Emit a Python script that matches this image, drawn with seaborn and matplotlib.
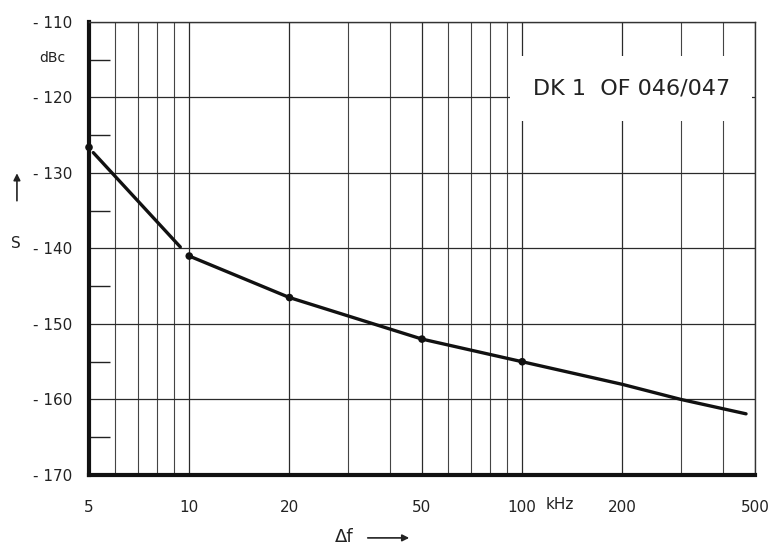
import matplotlib
matplotlib.use("Agg")
import matplotlib.pyplot as plt
import seaborn as sns
import pandas as pd

# curve: first steep segment, then the flatter run
seg1_f = [5.15, 9.4]
seg1_s = [-127.3, -139.8]
seg2_f = [10, 20, 50, 100, 200, 300, 470]
seg2_s = [-141.0, -146.5, -152.0, -155.0, -158.0, -160.0, -161.9]

# marked measurement points
dot_f = [5, 10, 20, 50, 100]
dot_s = [-126.6, -141.0, -146.5, -152.0, -155.0]

x_major = [5, 10, 20, 50, 100, 200, 500]
x_minor = [6, 7, 8, 9, 30, 40, 60, 70, 80, 90, 300, 400]
y_major = [-170, -160, -150, -140, -130, -120, -110]
y_labels = ["- 170", "- 160", "- 150", "- 140", "- 130", "- 120", "- 110"]
y_minor = [-165, -155, -145, -135, -125, -115]

sns.set_style("white")
plt.rcParams["font.family"] = ["DejaVu Sans"]

fig = plt.figure(figsize=(7.7, 5.5), dpi=100)
ax = fig.add_axes([0.1156, 0.1364, 0.8649, 0.8236])

seg1 = pd.DataFrame({"f": seg1_f, "s": seg1_s})
seg2 = pd.DataFrame({"f": seg2_f, "s": seg2_s})
dots = pd.DataFrame({"f": dot_f, "s": dot_s})

sns.lineplot(data=seg1, x="f", y="s", ax=ax, color="#111111", lw=2.4, zorder=4)
sns.lineplot(data=seg2, x="f", y="s", ax=ax, color="#111111", lw=2.4, zorder=4)
sns.scatterplot(data=dots, x="f", y="s", ax=ax, color="#111111", s=30,
                edgecolor="none", zorder=5, clip_on=False)

ax.set_xscale("log")
ax.set_xlim(5, 500)
ax.set_ylim(-170, -110)

ax.set_xticks(x_major)
ax.set_xticklabels([str(v) for v in x_major])
ax.set_xticks(x_minor, minor=True)
ax.set_xticklabels([], minor=True)
ax.set_yticks(y_major)
ax.set_yticklabels(y_labels)
ax.set_yticks(y_minor, minor=True)

# grid: vertical at every decade step, horizontal every 10 dB
ax.grid(True, which="major", axis="both", color="#2a2a2a", lw=0.9)
ax.grid(True, which="minor", axis="x", color="#444444", lw=0.8)
ax.set_axisbelow(True)

ax.tick_params(axis="x", which="both", length=0, pad=18, labelsize=11, colors="#222222")
ax.tick_params(axis="y", which="major", left=True, length=0, pad=12, labelsize=11,
               colors="#222222")
ax.tick_params(axis="y", which="minor", left=True, direction="in", length=15, width=1.0,
               color="#222222")

for side in ["left", "bottom"]:
    ax.spines[side].set_linewidth(3)
    ax.spines[side].set_color("#111111")
for side in ["top", "right"]:
    ax.spines[side].set_linewidth(1.0)
    ax.spines[side].set_color("#333333")

ax.set_xlabel("")
ax.set_ylabel("")

# unit labels and axis names
fig.text(0.051, 0.895, "dBc", fontsize=10, color="#222222", va="center")
fig.text(0.708, 0.082, "kHz", fontsize=11, color="#222222", va="center")
fig.text(0.014, 0.557, "S", fontsize=11, color="#222222", va="center")
ax.annotate("", xy=(0.022, 0.69), xytext=(0.022, 0.63), xycoords="figure fraction",
            arrowprops=dict(arrowstyle="-|>", color="#222222", lw=1.2))
fig.text(0.435, 0.024, "\u0394f", fontsize=13, color="#222222", va="center")
ax.annotate("", xy=(0.535, 0.022), xytext=(0.474, 0.022), xycoords="figure fraction",
            arrowprops=dict(arrowstyle="-|>", color="#222222", lw=1.2))

# type label with a blank patch over the grid
ax.text(0.962, 0.853, "DK 1  OF 046/047", transform=ax.transAxes, ha="right", va="center",
        fontsize=16, color="#222222", zorder=6,
        bbox=dict(facecolor="white", edgecolor="none", pad=16))

fig.savefig("out.png", dpi=100)
